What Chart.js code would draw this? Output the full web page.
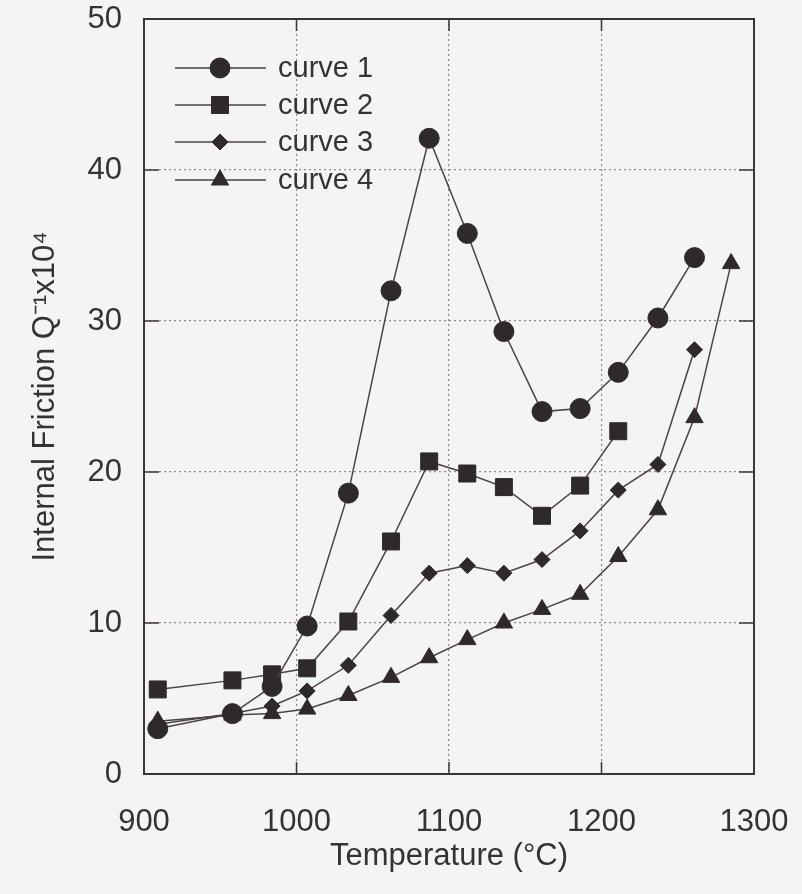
<!DOCTYPE html>
<html>
<head>
<meta charset="utf-8">
<script src="https://cdn.jsdelivr.net/npm/chart.js@4"></script>
<style>
  html, body { margin: 0; padding: 0; background: #f4f4f2; }
  #wrap { width: 802px; height: 894px; }
</style>
</head>
<body>
<div id="wrap"><canvas id="chart" width="802" height="894"></canvas></div>
<script>
// ── Data ───────────────────────────────────────────────────
const temps  = [909, 958, 984, 1007, 1034, 1062, 1087, 1112, 1136, 1161, 1186, 1211, 1237, 1261];
const temps4 = [909, 958, 984, 1007, 1034, 1062, 1087, 1112, 1136, 1161, 1186, 1211, 1237, 1261, 1285];

const curve1 = [3.0, 4.0, 5.8, 9.8, 18.6, 32.0, 42.1, 35.8, 29.3, 24.0, 24.2, 26.6, 30.2, 34.2];
const curve2 = [5.6, 6.2, 6.6, 7.0, 10.1, 15.4, 20.7, 19.9, 19.0, 17.1, 19.1, 22.7];
const curve3 = [3.3, 4.0, 4.5, 5.5, 7.2, 10.5, 13.3, 13.8, 13.3, 14.2, 16.1, 18.8, 20.5, 28.1];
const curve4 = [3.5, 3.9, 4.0, 4.3, 5.2, 6.4, 7.7, 8.9, 10.0, 10.9, 11.9, 14.4, 17.5, 23.6, 33.8];

const seriesNames = ['curve 1', 'curve 2', 'curve 3', 'curve 4'];
const xTicks = [900, 1000, 1100, 1200, 1300];
const yTicks = [0, 10, 20, 30, 40, 50];

const INK   = '#2e2a2a';
const LINE  = '#4a4545';
const FONT  = 'Liberation Sans, Arial, Helvetica, sans-serif';

const pts = (xs, ys) => ys.map((y, i) => ({ x: xs[i], y }));

function ds(label, data, style, radius) {
  return {
    label, data,
    borderColor: LINE, borderWidth: 1.5,
    backgroundColor: INK,
    pointStyle: style, pointRadius: radius,
    pointBackgroundColor: INK, pointBorderColor: INK, pointBorderWidth: 1,
    fill: false, tension: 0
  };
}

// frame, inner tick marks and the in-plot legend
const framePlugin = {
  id: 'frame',
  afterDatasetsDraw(chart) {
    const { ctx, chartArea: a, scales: { x, y } } = chart;
    ctx.save();
    ctx.strokeStyle = '#3a3636';
    ctx.lineWidth = 2;
    ctx.strokeRect(a.left, a.top, a.right - a.left, a.bottom - a.top);

    ctx.lineWidth = 1.5;
    ctx.beginPath();
    xTicks.slice(1, -1).forEach(v => {
      const px = x.getPixelForValue(v);
      ctx.moveTo(px, a.bottom); ctx.lineTo(px, a.bottom - 12);
      ctx.moveTo(px, a.top);    ctx.lineTo(px, a.top + 12);
    });
    yTicks.slice(1, -1).forEach(v => {
      const py = y.getPixelForValue(v);
      ctx.moveTo(a.left, py);  ctx.lineTo(a.left + 15, py);
      ctx.moveTo(a.right, py); ctx.lineTo(a.right - 15, py);
    });
    ctx.stroke();
    ctx.restore();
  },
  afterDraw(chart) {
    const { ctx } = chart;
    const rows = [68, 105, 142, 180];
    ctx.save();
    chart.data.datasets.forEach((d, i) => {
      const yy = rows[i];
      ctx.strokeStyle = LINE; ctx.lineWidth = 1.5;
      ctx.beginPath(); ctx.moveTo(175, yy); ctx.lineTo(266, yy); ctx.stroke();
      ctx.fillStyle = INK; ctx.strokeStyle = INK; ctx.lineWidth = 1;
      Chart.helpers.drawPoint(ctx, { pointStyle: d.pointStyle, radius: d.pointRadius, rotation: 0, borderWidth: 1 }, 220, yy);
      ctx.fillStyle = '#333';
      ctx.font = '29px ' + FONT;
      ctx.textBaseline = 'middle';
      ctx.fillText(seriesNames[i], 278, yy + 1);
    });
    ctx.restore();
  }
};

const bgPlugin = {
  id: 'bg',
  beforeDraw(chart) {
    const { ctx, width, height } = chart;
    ctx.save();
    ctx.fillStyle = '#f4f4f2';
    ctx.fillRect(0, 0, width, height);
    ctx.restore();
  }
};

const dotted = (ends) => (c) => (ends.includes(c.tick.value) ? 'rgba(0,0,0,0)' : '#8f8a8a');
// keep label overhang from pushing the plot area around
const noPad = s => { s.paddingTop = 0; s.paddingBottom = 0; s.paddingLeft = 0; s.paddingRight = 0; };

new Chart(document.getElementById('chart').getContext('2d'), {
  type: 'line',
  data: {
    datasets: [
      ds(seriesNames[0], pts(temps,  curve1), 'circle',   10),
      ds(seriesNames[1], pts(temps,  curve2), 'rect',     12),
      ds(seriesNames[2], pts(temps,  curve3), 'rectRot',  8),
      ds(seriesNames[3], pts(temps4, curve4), 'triangle', 10)
    ]
  },
  options: {
    responsive: false,
    animation: false,
    layout: { padding: { left: 0, right: 48, top: 19, bottom: 0 } },
    plugins: { legend: { display: false }, tooltip: { enabled: false } },
    scales: {
      x: {
        type: 'linear', min: 900, max: 1300,
        afterBuildTicks: s => { s.ticks = xTicks.map(v => ({ value: v })); },
        afterFit: s => { s.height = 120; noPad(s); },
        grid: { color: dotted([900, 1300]), lineWidth: 1.2, drawTicks: false },
        border: { display: false, dash: [2, 3] },
        ticks: { color: '#333', padding: 30, font: { family: FONT, size: 31 }, maxRotation: 0,
                 callback: v => String(v) },
        title: { display: true, text: 'Temperature (°C)', color: '#333',
                 font: { family: FONT, size: 31 }, padding: { top: 0, bottom: 19 } }
      },
      y: {
        min: 0, max: 50,
        afterBuildTicks: s => { s.ticks = yTicks.map(v => ({ value: v })); },
        afterFit: s => { s.width = 144; noPad(s); },
        grid: { color: dotted([0, 50]), lineWidth: 1.2, drawTicks: false },
        border: { display: false, dash: [2, 3] },
        ticks: { color: '#333', padding: 22, font: { family: FONT, size: 31 },
                 callback: v => String(v) },
        title: { display: true, text: 'Internal Friction Q⁻¹x10⁴', color: '#333',
                 font: { family: FONT, size: 31 }, padding: { top: 27, bottom: 0 } }
      }
    }
  },
  plugins: [bgPlugin, framePlugin]
});
</script>
</body>
</html>
